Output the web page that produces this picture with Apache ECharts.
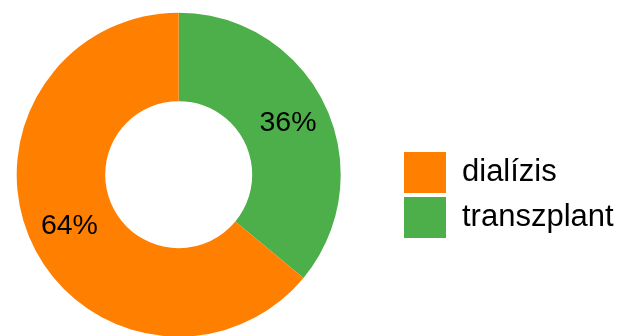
<!DOCTYPE html>
<html>
<head>
<meta charset="utf-8">
<script src="https://cdn.jsdelivr.net/npm/echarts@6/dist/echarts.min.js"></script>
<style>
  html, body { margin: 0; padding: 0; background: #ffffff; }
  #chart { width: 630px; height: 336px; }
</style>
</head>
<body>
<div id="chart"></div>
<script>
// Treatment share: transplant slice starts at 12 o'clock, running clockwise
const categories = ['transzplant', 'dialízis'];
const shares = [36, 64];
const sliceColors = ['#4daf4a', '#ff7f00'];
const legendOrder = ['dialízis', 'transzplant'];

const chart = echarts.init(document.getElementById('chart'), null, { renderer: 'canvas' });

chart.setOption({
  animation: false,
  backgroundColor: '#ffffff',
  legend: {
    data: legendOrder,
    orient: 'vertical',
    left: 404,
    top: 152,
    padding: 0,
    itemWidth: 42,
    itemHeight: 41,
    itemGap: 4,
    icon: 'rect',
    textStyle: {
      fontFamily: 'Liberation Sans, Arial, sans-serif',
      fontSize: 31,
      color: '#000000',
      padding: [0, 0, 0, 11]
    }
  },
  series: [{
    type: 'pie',
    center: [178.7, 174.7],
    radius: [73.5, 162],
    startAngle: 90,
    clockwise: true,
    silent: true,
    itemStyle: { borderWidth: 0 },
    label: {
      show: true,
      position: 'inside',
      formatter: '{c}%',
      fontFamily: 'Liberation Sans, Arial, sans-serif',
      fontSize: 28.5,
      color: '#000000',
      padding: [5, 0, 0, 0]
    },
    labelLine: { show: false },
    data: categories.map((name, i) => ({
      name: name,
      value: shares[i],
      itemStyle: { color: sliceColors[i] }
    }))
  }]
});
</script>
</body>
</html>
